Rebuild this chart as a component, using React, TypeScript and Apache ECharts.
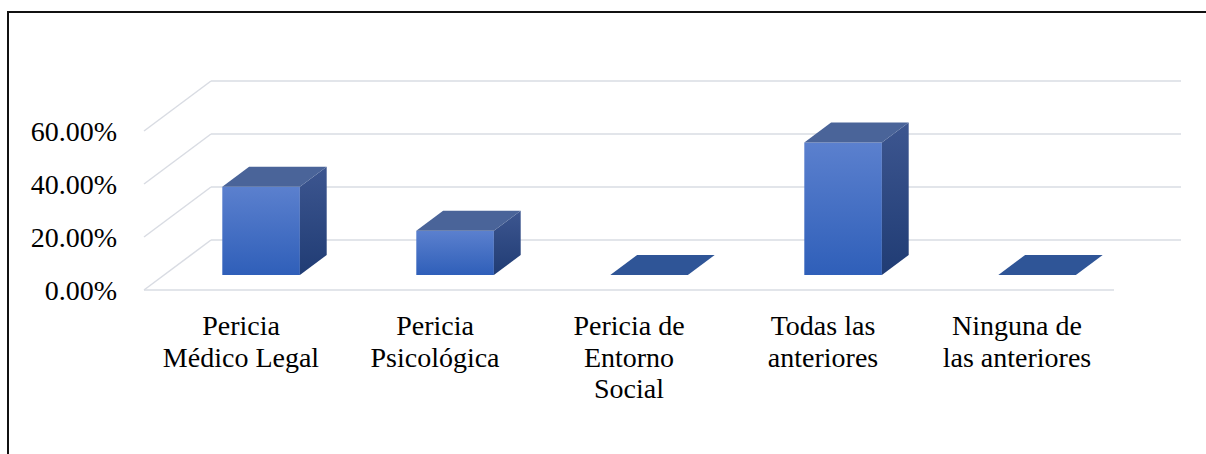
import React, { useEffect, useRef } from "react";
import * as echarts from "echarts";

const categories = [
  "Pericia\nMédico Legal",
  "Pericia\nPsicológica",
  "Pericia de\nEntorno\nSocial",
  "Todas las\nanteriores",
  "Ninguna de\nlas anteriores",
];
const values = [33.33, 16.67, 0, 50, 0];
const tickValues = [0, 20, 40, 60];

// perspective depth of the floor/back wall (pixels)
const DX = 67;
const DY = -50;
const FONT = "Liberation Serif";
const GRID_COLOR = "#D9DCE3";

export default function App() {
  const ref = useRef<HTMLDivElement>(null);
  useEffect(() => {
    const chart = echarts.init(ref.current!, null, { renderer: "svg" });
    const option: any = {
      animation: false,
      backgroundColor: "#fff",
      grid: { left: 144, right: 92, top: 131, bottom: 164 },
      xAxis: {
        type: "category",
        data: categories,
        axisLine: { show: false },
        axisTick: { show: false },
        axisLabel: {
          color: "#000",
          fontFamily: FONT,
          fontSize: 28,
          lineHeight: 31.5,
          margin: 20,
          interval: 0,
        },
      },
      yAxis: {
        type: "value",
        min: 0,
        max: 60,
        interval: 20,
        axisLine: { show: false },
        axisTick: { show: false },
        splitLine: { show: false },
        axisLabel: {
          color: "#000",
          fontFamily: FONT,
          fontSize: 28,
          margin: 27,
          padding: [4, 0, 0, 0],
          formatter: (v: number) => v.toFixed(2) + "%",
        },
      },
      graphic: [
        { type: "rect", shape: { x: 7, y: 11, width: 1199, height: 2 }, style: { fill: "#111" }, z: 100 },
        { type: "rect", shape: { x: 7, y: 11, width: 2, height: 443 }, style: { fill: "#111" }, z: 100 },
      ],
      series: [
        {
          type: "custom",
          z: 1,
          clip: false,
          data: tickValues.map((v) => [0, v]),
          renderItem: (params: any, api: any) => {
            const cs = params.coordSys;
            const v = api.value(1);
            const y = api.coord([0, v])[1];
            const x0 = cs.x;
            const x1 = cs.x + cs.width;
            const style = { stroke: GRID_COLOR, lineWidth: 1.5, fill: null };
            const children: any[] = [
              { type: "line", shape: { x1: x0, y1: y, x2: x0 + DX, y2: y + DY }, style },
              { type: "line", shape: { x1: x0 + DX, y1: y + DY, x2: x1 + DX, y2: y + DY }, style },
            ];
            if (v === 0) {
              children.push({ type: "line", shape: { x1: x0, y1: y, x2: x1, y2: y }, style });
            }
            return { type: "group", children };
          },
        },
        {
          type: "custom",
          z: 2,
          clip: false,
          data: values.map((v, i) => [i, v]),
          renderItem: (params: any, api: any) => {
            const i = api.value(0);
            const v = api.value(1);
            const base = api.coord([i, 0]);
            const top = api.coord([i, v]);
            const band = api.size([1, 0])[0];
            const w = band * 0.4;
            const fx = DX * 0.3;
            const fy = DY * 0.3;
            const bx = DX * 0.4;
            const by = DY * 0.4;
            const l = base[0] - w / 2 + fx;
            const r = base[0] + w / 2 + fx;
            const b = base[1] + fy;
            const t = top[1] + fy;
            const children: any[] = [];
            const topFace = {
              type: "polygon",
              shape: { points: [[l, t], [r, t], [r + bx, t + by], [l + bx, t + by]] },
              style: { fill: v === 0 ? "#2F5597" : "#4A6499" },
            };
            if (v > 0) {
              children.push({
                type: "rect",
                shape: { x: l, y: t, width: r - l, height: b - t },
                style: {
                  fill: {
                    type: "linear", x: 0, y: 0, x2: 0, y2: 1,
                    colorStops: [
                      { offset: 0, color: "#5B80CE" },
                      { offset: 1, color: "#2F5FB9" },
                    ],
                  },
                },
              });
              children.push({
                type: "polygon",
                shape: { points: [[r, t], [r + bx, t + by], [r + bx, b + by], [r, b]] },
                style: {
                  fill: {
                    type: "linear", x: 0, y: 0, x2: 0, y2: 1,
                    colorStops: [
                      { offset: 0, color: "#3D5690" },
                      { offset: 1, color: "#203C74" },
                    ],
                  },
                },
              });
            }
            children.push(topFace);
            return { type: "group", children };
          },
        },
      ],
    };
    chart.setOption(option);
    return () => chart.dispose();
  }, []);
  return (
    <div
      ref={ref}
      style={{ position: "fixed", left: 0, top: 0, width: 1206, height: 454, background: "#fff" }}
    />
  );
}
